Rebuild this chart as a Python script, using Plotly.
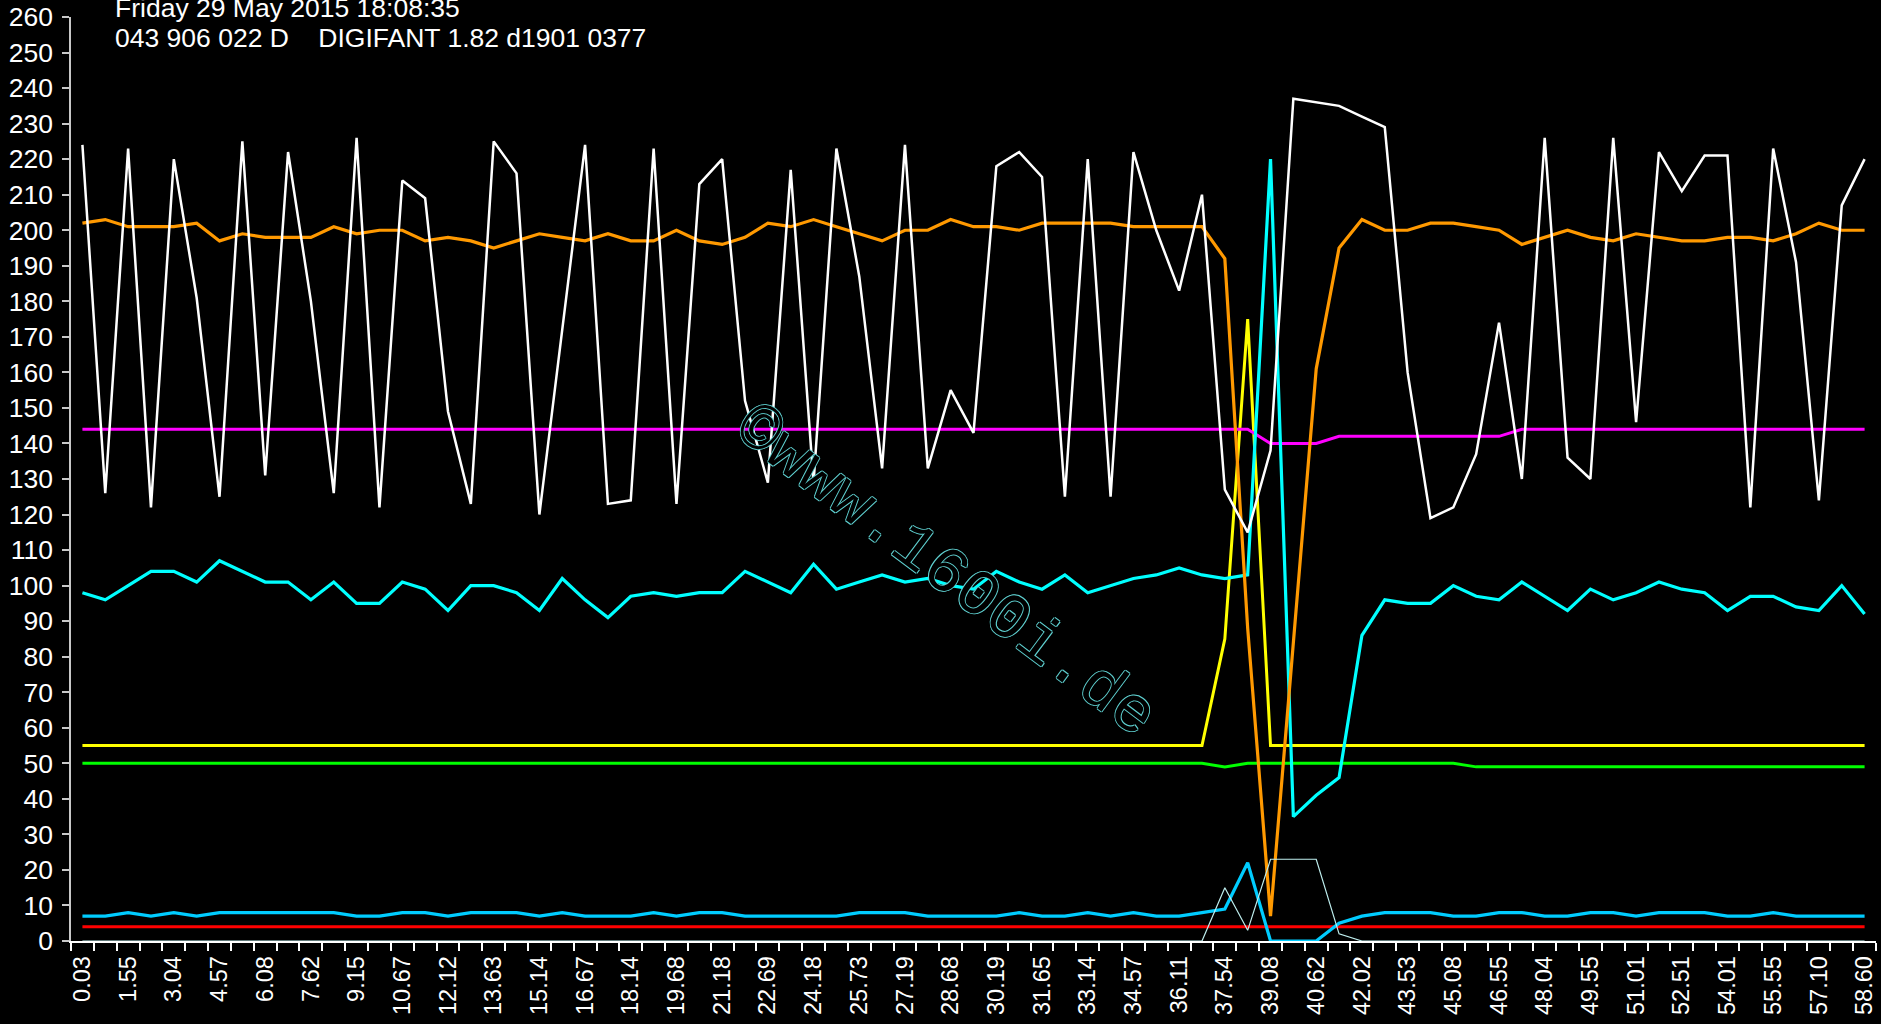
import plotly.graph_objects as go

# ---------------- data ----------------
tick_labels = ["0.03", "1.55", "3.04", "4.57", "6.08", "7.62", "9.15", "10.67", "12.12", "13.63",
               "15.14", "16.67", "18.14", "19.68", "21.18", "22.69", "24.18", "25.73", "27.19", "28.68",
               "30.19", "31.65", "33.14", "34.57", "36.11", "37.54", "39.08", "40.62", "42.02", "43.53",
               "45.08", "46.55", "48.04", "49.55", "51.01", "52.51", "54.01", "55.55", "57.10", "58.60"]

white = [224, 126, 223, 122, 220, 181, 125, 225, 131, 222, 180, 126, 226, 122, 214, 209, 149, 123, 225, 216,
         120, 172, 224, 123, 124, 223, 123, 213, 220, 152, 129, 217, 129, 223, 187, 133, 224, 133, 155, 143,
         218, 222, 215, 125, 220, 125, 222, 200, 183, 210, 127, 115, 138, 237, 236, 235, 232, 229, 160, 119,
         122, 137, 174, 130, 226, 136, 130, 226, 146, 222, 211, 221, 221, 122, 223, 191, 124, 207, 220]

orange = [202, 203, 201, 201, 201, 202, 197, 199, 198, 198, 198, 201, 199, 200, 200, 197, 198, 197, 195, 197,
          199, 198, 197, 199, 197, 197, 200, 197, 196, 198, 202, 201, 203, 201, 199, 197, 200, 200, 203, 201,
          201, 200, 202, 202, 202, 202, 201, 201, 201, 201, 192, 88, 7, 84, 161, 195, 203, 200, 200, 202,
          202, 201, 200, 196, 198, 200, 198, 197, 199, 198, 197, 197, 198, 198, 197, 199, 202, 200, 200]

magenta = [144, 144, 144, 144, 144, 144, 144, 144, 144, 144, 144, 144, 144, 144, 144, 144, 144, 144, 144, 144,
           144, 144, 144, 144, 144, 144, 144, 144, 144, 144, 144, 144, 144, 144, 144, 144, 144, 144, 144, 144,
           144, 144, 144, 144, 144, 144, 144, 144, 144, 144, 144, 144, 140, 140, 140, 142, 142, 142, 142, 142,
           142, 142, 142, 144, 144, 144, 144, 144, 144, 144, 144, 144, 144, 144, 144, 144, 144, 144, 144]

cyan = [98, 96, 100, 104, 104, 101, 107, 104, 101, 101, 96, 101, 95, 95, 101, 99, 93, 100, 100, 98,
        93, 102, 96, 91, 97, 98, 97, 98, 98, 104, 101, 98, 106, 99, 101, 103, 101, 102, 100, 99,
        104, 101, 99, 103, 98, 100, 102, 103, 105, 103, 102, 103, 220, 35, 41, 46, 86, 96, 95, 95,
        100, 97, 96, 101, 97, 93, 99, 96, 98, 101, 99, 98, 93, 97, 97, 94, 93, 100, 92]

yellow = [55, 55, 55, 55, 55, 55, 55, 55, 55, 55, 55, 55, 55, 55, 55, 55, 55, 55, 55, 55,
          55, 55, 55, 55, 55, 55, 55, 55, 55, 55, 55, 55, 55, 55, 55, 55, 55, 55, 55, 55,
          55, 55, 55, 55, 55, 55, 55, 55, 55, 55, 85, 175, 55, 55, 55, 55, 55, 55, 55, 55,
          55, 55, 55, 55, 55, 55, 55, 55, 55, 55, 55, 55, 55, 55, 55, 55, 55, 55, 55]

green = [50, 50, 50, 50, 50, 50, 50, 50, 50, 50, 50, 50, 50, 50, 50, 50, 50, 50, 50, 50,
         50, 50, 50, 50, 50, 50, 50, 50, 50, 50, 50, 50, 50, 50, 50, 50, 50, 50, 50, 50,
         50, 50, 50, 50, 50, 50, 50, 50, 50, 50, 49, 50, 50, 50, 50, 50, 50, 50, 50, 50,
         50, 49, 49, 49, 49, 49, 49, 49, 49, 49, 49, 49, 49, 49, 49, 49, 49, 49, 49]

skyblue = [7, 7, 8, 7, 8, 7, 8, 8, 8, 8, 8, 8, 7, 7, 8, 8, 7, 8, 8, 8,
           7, 8, 7, 7, 7, 8, 7, 8, 8, 7, 7, 7, 7, 7, 8, 8, 8, 7, 7, 7,
           7, 8, 7, 7, 8, 7, 8, 7, 7, 8, 9, 22, 0, 0, 0, 5, 7, 8, 8, 8,
           7, 7, 8, 8, 7, 7, 8, 8, 7, 8, 8, 8, 7, 7, 8, 7, 7, 7, 7]

red = [4, 4, 4, 4, 4, 4, 4, 4, 4, 4, 4, 4, 4, 4, 4, 4, 4, 4, 4, 4,
       4, 4, 4, 4, 4, 4, 4, 4, 4, 4, 4, 4, 4, 4, 4, 4, 4, 4, 4, 4,
       4, 4, 4, 4, 4, 4, 4, 4, 4, 4, 4, 4, 4, 4, 4, 4, 4, 4, 4, 4,
       4, 4, 4, 4, 4, 4, 4, 4, 4, 4, 4, 4, 4, 4, 4, 4, 4, 4, 4]

thin = [0, 0, 0, 0, 0, 0, 0, 0, 0, 0, 0, 0, 0, 0, 0, 0, 0, 0, 0, 0,
        0, 0, 0, 0, 0, 0, 0, 0, 0, 0, 0, 0, 0, 0, 0, 0, 0, 0, 0, 0,
        0, 0, 0, 0, 0, 0, 0, 0, 0, 0, 15, 3, 23, 23, 23, 2, 0, 0, 0, 0,
        0, 0, 0, 0, 0, 0, 0, 0, 0, 0, 0, 0, 0, 0, 0, 0, 0, 0, 0]

title_line1 = "Friday 29 May 2015 18:08:35"
title_line2 = "043 906 022 D\u00a0\u00a0\u00a0\u00a0DIGIFANT 1.82 d1901 0377"
watermark = "\u00a9www.1600i.de"

# ---------------- figure ----------------
x = list(range(len(white)))
tick_positions = x[::2]

series = [
    (red, "#FF0000", 3),
    (green, "#00FF00", 3),
    (yellow, "#FFFF00", 3),
    (magenta, "#FF00FF", 3),
    (skyblue, "#00CCFF", 3.2),
    (cyan, "#00FFFF", 3.2),
    (orange, "#FF9900", 3.2),
    (white, "#FFFFFF", 2.5),
    (thin, "#BFEFEF", 1.2),
]

fig = go.Figure()
for vals, col, w in series:
    fig.add_trace(go.Scatter(x=x, y=vals, mode="lines",
                             line=dict(color=col, width=w), hoverinfo="skip"))

fig.update_layout(
    width=1881, height=1024,
    paper_bgcolor="black", plot_bgcolor="black",
    margin=dict(l=71, r=5, t=17, b=83, autoexpand=False),
    showlegend=False,
    font=dict(family="Liberation Sans, Arial, sans-serif", color="white", size=25),
)

fig.update_xaxes(
    range=[-0.5, len(white) - 0.5], automargin=False,
    tickmode="array", tickvals=tick_positions, ticktext=tick_labels,
    tickangle=-90, ticks="", ticklabelstandoff=4,
    tickfont=dict(size=23.5, color="white"),
    showgrid=False, zeroline=False,
    showline=True, linecolor="white", linewidth=1.5,
    minor=dict(ticks="outside", tickmode="linear", tick0=-0.5, dtick=1,
               ticklen=8, tickwidth=1.5, tickcolor="white", showgrid=False),
)

fig.update_yaxes(
    range=[0, 260], automargin=False, tickmode="linear", tick0=0, dtick=10,
    ticks="outside", ticklen=7, tickwidth=1.5, tickcolor="#C8C8C8",
    ticklabelstandoff=4,
    tickfont=dict(size=26.5, color="white"),
    showgrid=False, zeroline=False,
    showline=True, linecolor="#C8C8C8", linewidth=1.5,
)

fig.add_annotation(text=title_line1, xref="paper", yref="paper", x=0.0235, y=1.0100,
                   xanchor="left", yanchor="middle", showarrow=False,
                   font=dict(size=26.5, color="white"))
fig.add_annotation(text=title_line2, xref="paper", yref="paper", x=0.0235, y=0.9775,
                   xanchor="left", yanchor="middle", showarrow=False,
                   font=dict(size=26.5, color="white"))

fig.add_annotation(text=watermark, xref="paper", yref="paper", x=0.484, y=0.398,
                   xanchor="center", yanchor="middle", showarrow=False, textangle=36.8,
                   font=dict(family="Liberation Mono, Courier New, monospace", size=65,
                             color="black",
                             shadow="1px 0 0 #5FD0D0, -1px 0 0 #5FD0D0, 0 1px 0 #5FD0D0, 0 -1px 0 #5FD0D0"))

fig.write_html("out.html", config={"displayModeBar": False},
               post_script="document.body.style.margin='0';document.body.style.overflow='hidden';")
